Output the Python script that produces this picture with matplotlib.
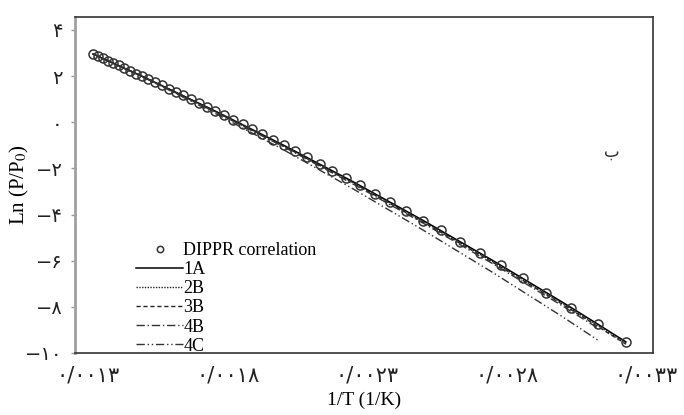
import matplotlib
matplotlib.use('Agg')
import matplotlib.pyplot as plt

# 1/T (1/K) of the DIPPR points
inv_t = [0.001316, 0.001333, 0.001351, 0.001370, 0.001389, 0.001408, 0.001429,
         0.001449, 0.001471, 0.001493, 0.001515, 0.001538, 0.001563, 0.001587,
         0.001613, 0.001639, 0.001667, 0.001695, 0.001724, 0.001754, 0.001786,
         0.001818, 0.001852, 0.001887, 0.001923, 0.001961, 0.002000, 0.002041,
         0.002083, 0.002128, 0.002174, 0.002222, 0.002273, 0.002326, 0.002381,
         0.002439, 0.002500, 0.002564, 0.002632, 0.002703, 0.002778, 0.002857,
         0.002941, 0.003030, 0.003125, 0.003226]
dippr = [2.96, 2.87, 2.77, 2.67, 2.57, 2.46, 2.35, 2.23, 2.11, 1.99, 1.87, 1.74,
         1.60, 1.46, 1.31, 1.16, 1.00, 0.84, 0.67, 0.49, 0.30, 0.11, -0.09, -0.31,
         -0.53, -0.76, -1.00, -1.26, -1.52, -1.80, -2.10, -2.41, -2.74, -3.09,
         -3.45, -3.84, -4.26, -4.69, -5.17, -5.66, -6.20, -6.77, -7.38, -8.04,
         -8.75, -9.52]

# model curves
x_line = [0.001316, 0.0015, 0.00175, 0.002, 0.00225, 0.0025, 0.00275, 0.003,
          0.003125, 0.003226]
y_1a = [2.96, 1.95, 0.51, -1.00, -2.59, -4.26, -6.00, -7.81, -8.75, -9.52]
y_2b = [2.96, 1.95, 0.50, -1.02, -2.62, -4.30, -6.05, -7.87, -8.81, -9.58]
y_3b = [2.96, 1.94, 0.49, -1.04, -2.65, -4.33, -6.08, -7.90, -8.85, -9.62]
y_4b = [2.96, 1.94, 0.47, -1.07, -2.69, -4.38, -6.14, -7.97, -8.92]
y_4c = [2.96, 1.93, 0.41, -1.20, -2.90, -4.68, -6.52, -8.44, -9.44]

x_ticks = [0.0013, 0.0018, 0.0023, 0.0028, 0.0033]
x_ticklabels = ['۰/۰۰۱۳', '۰/۰۰۱۸', '۰/۰۰۲۳', '۰/۰۰۲۸', '۰/۰۰۳۳']
y_ticks = [4, 2, 0, -2, -4, -6, -8, -10]
y_ticklabels = ['۴', '۲', '۰', '−۲', '−۴', '−۶', '−۸', '−۱۰']

plt.rcParams['font.family'] = ['Liberation Serif', 'DejaVu Sans']
plt.rcParams['mathtext.fontset'] = 'stix'

fig = plt.figure(figsize=(6.84, 4.15), dpi=100)
ax = fig.add_axes([0.1096, 0.1494, 0.8451, 0.8096])

ax.plot(x_line, y_1a, color='black', lw=1.1, ls='-', label='1A')
ax.plot(x_line, y_2b, color='#222222', lw=1.0, ls=(0, (1, 1)), label='2B')
ax.plot(x_line, y_3b, color='#222222', lw=1.0, ls=(0, (3, 2)), label='3B')
ax.plot(x_line[:9], y_4b, color='#333333', lw=1.0, ls=(0, (6, 2, 1, 2)), label='4B')
ax.plot(x_line[:9], y_4c, color='#333333', lw=1.0, ls=(0, (6, 2, 1, 2, 1, 2)), label='4C')
ax.plot(inv_t, dippr, ls='none', marker='o', ms=6.5, mfc='none', mec='#333333',
        mew=1.1, label='DIPPR correlation')

ax.set_xlim(0.0012516, 0.003323)
ax.set_ylim(-10, 4.56)
ax.set_xticks(x_ticks)
ax.set_xticklabels(x_ticklabels, fontsize=15, family=['DejaVu Sans'])
ax.set_yticks(y_ticks)
ax.set_yticklabels(y_ticklabels, fontsize=14, family=['DejaVu Sans'])
ax.tick_params(axis='x', length=0, pad=9, colors='#222222')
ax.tick_params(axis='y', length=3, width=1, color='#999999', pad=6, labelcolor='#222222')

for side in ['top', 'right', 'bottom']:
    ax.spines[side].set_color('#333333')
    ax.spines[side].set_linewidth(1.2)
ax.spines['left'].set_color('#a0a0a0')
ax.spines['left'].set_linewidth(2)

ax.set_xlabel('1/T (1/K)', fontsize=14)
ax.xaxis.set_label_coords(0.5, -0.115)
ax.set_ylabel('Ln (P/P$_0$)', fontsize=15)
ax.yaxis.set_label_coords(-0.076, 0.5)

ax.text(0.915, 0.585, 'ب', transform=ax.transAxes, fontsize=12,
        family=['DejaVu Sans'], color='#333333')

handles, labels = ax.get_legend_handles_labels()
order = [5, 0, 1, 2, 3, 4]
ax.legend([handles[i] for i in order], [labels[i] for i in order],
          loc='lower left', bbox_to_anchor=(0.106, -0.005), frameon=False,
          fontsize=13, handlelength=2.6, handletextpad=0.0, labelspacing=0.12,
          borderpad=0, borderaxespad=0, markerscale=0.7)

fig.savefig('out.png', dpi=100)
